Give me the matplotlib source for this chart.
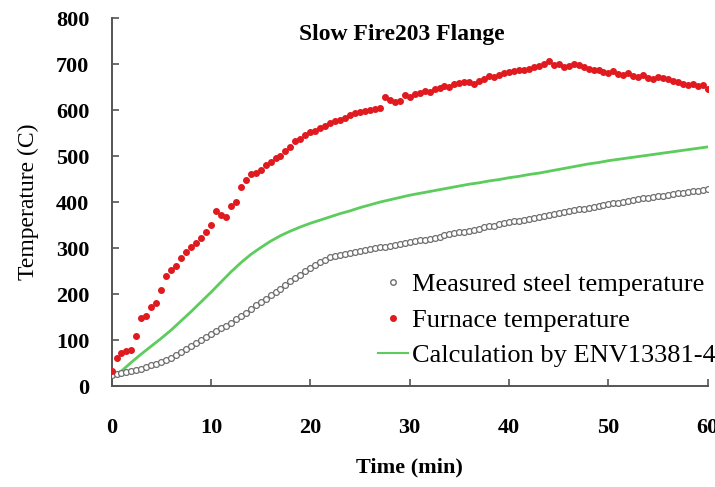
import numpy as np
import matplotlib
matplotlib.use("Agg")
import matplotlib.pyplot as plt
from matplotlib.lines import Line2D

# Sample times (min)
time_half = np.arange(0, 60.5, 0.5)
time_calc = np.arange(0, 61, 1.0)

furnace_temp = [
    32, 62, 72, 76, 78, 108, 148, 152, 172, 180,
    208, 240, 252, 262, 278, 292, 302, 312, 322, 336,
    350, 380, 372, 368, 392, 400, 432, 448, 460, 464,
    470, 480, 488, 496, 500, 512, 520, 532, 538, 546,
    552, 555, 562, 566, 572, 576, 578, 582, 590, 594,
    596, 598, 600, 602, 604, 628, 622, 618, 620, 632,
    628, 634, 638, 642, 640, 646, 648, 652, 650, 656,
    658, 660, 662, 656, 664, 668, 674, 672, 676, 680,
    682, 684, 686, 688, 690, 694, 696, 700, 706, 698,
    700, 694, 696, 700, 698, 694, 690, 688, 686, 682,
    680, 684, 678, 676, 680, 674, 672, 676, 670, 668,
    672, 670, 668, 664, 660, 656, 654, 656, 652, 654,
    646,
]

steel_temp = [
    25, 26, 28, 30, 33, 35, 38, 41, 45, 49,
    53, 57, 62, 68, 75, 81, 88, 94, 100, 106,
    113, 120, 126, 131, 138, 145, 152, 160, 168, 176,
    183, 190, 198, 205, 212, 220, 228, 235, 242, 250,
    257, 264, 270, 275, 280, 283, 285, 288, 290, 292,
    294, 296, 298, 300, 302, 303, 305, 307, 310, 312,
    314, 315, 317, 318, 320, 323, 325, 328, 330, 332,
    334, 336, 338, 340, 342, 345, 347, 349, 352, 354,
    356, 358, 360, 362, 364, 366, 368, 370, 372, 374,
    376, 378, 380, 382, 384, 386, 388, 390, 392, 394,
    396, 397, 399, 400, 402, 404, 406, 408, 410, 411,
    413, 414, 416, 418, 419, 420, 422, 424, 425, 427,
    428,
]

calc_temp = [
    20, 33, 52, 70, 87, 104, 122, 142, 162, 183,
    204, 226, 248, 268, 286, 301, 315, 327, 337, 346,
    354, 361, 368, 375, 381, 388, 394, 400, 405, 410,
    415, 419, 423, 427, 431, 435, 439, 442, 446, 449,
    453, 456, 460, 463, 467, 471, 475, 479, 483, 486,
    490, 493, 496, 499, 502, 505, 508, 511, 514, 517,
    520,
]

x_ticks = [0, 10, 20, 30, 40, 50, 60]
y_ticks = [0, 100, 200, 300, 400, 500, 600, 700, 800]

plt.rcParams['font.family'] = ['Liberation Serif', 'DejaVu Serif']

fig = plt.figure(figsize=(7.15, 4.87), dpi=100)
ax = fig.add_axes([0.156, 0.207, 0.834, 0.756])

red = '#e01a1f'
green = '#5ccc5c'
grey = '#6e6e6e'

ax.plot(time_calc, calc_temp, color=green, lw=2.0, zorder=2)
ax.plot(time_half, steel_temp, linestyle='none', marker='o', ms=4.2,
        mfc='white', mec=grey, mew=0.9, zorder=3)
ax.plot(time_half, furnace_temp, linestyle='none', marker='o', ms=4.0,
        mfc=red, mec=red, zorder=4)

ax.set_xlim(0, 60)
ax.set_ylim(0, 800)
ax.set_xticks(x_ticks)
ax.set_yticks(y_ticks)
ax.set_xticklabels([str(v) for v in x_ticks], fontweight='bold', fontsize=16)
ax.set_yticklabels([str(v) for v in y_ticks], fontweight='bold', fontsize=16)
ax.tick_params(axis='both', direction='in', length=5, width=1.2, color='#555555')
ax.tick_params(axis='x', pad=23)
ax.tick_params(axis='y', pad=16)

for side in ('top', 'right'):
    ax.spines[side].set_visible(False)
for side in ('left', 'bottom'):
    ax.spines[side].set_color('#555555')
    ax.spines[side].set_linewidth(1.4)

ax.set_xlabel('Time (min)', fontsize=16, fontweight='bold', labelpad=14)
ax.set_ylabel('Temperature (C)', fontsize=17, labelpad=12)
ax.text(0.486, 0.985, 'Slow Fire203 Flange', transform=ax.transAxes,
        ha='center', va='top', fontsize=17, fontweight='bold')

handles = [
    Line2D([], [], linestyle='none', marker='o', ms=4, mfc='white', mec=grey),
    Line2D([], [], linestyle='none', marker='o', ms=4, mfc=red, mec=red),
    Line2D([], [], color=green, lw=1.5),
]
labels = ['Measured steel temperature', 'Furnace temperature',
          'Calculation by ENV13381-4']
leg = ax.legend(handles, labels, loc='upper left',
                bbox_to_anchor=(378 / 715, 1 - 273 / 487),
                bbox_transform=fig.transFigure,
                frameon=False, fontsize=19, handlelength=1.15,
                handletextpad=0.15, labelspacing=0.45,
                borderpad=0, borderaxespad=0)

fig.savefig('out.png', dpi=100)
